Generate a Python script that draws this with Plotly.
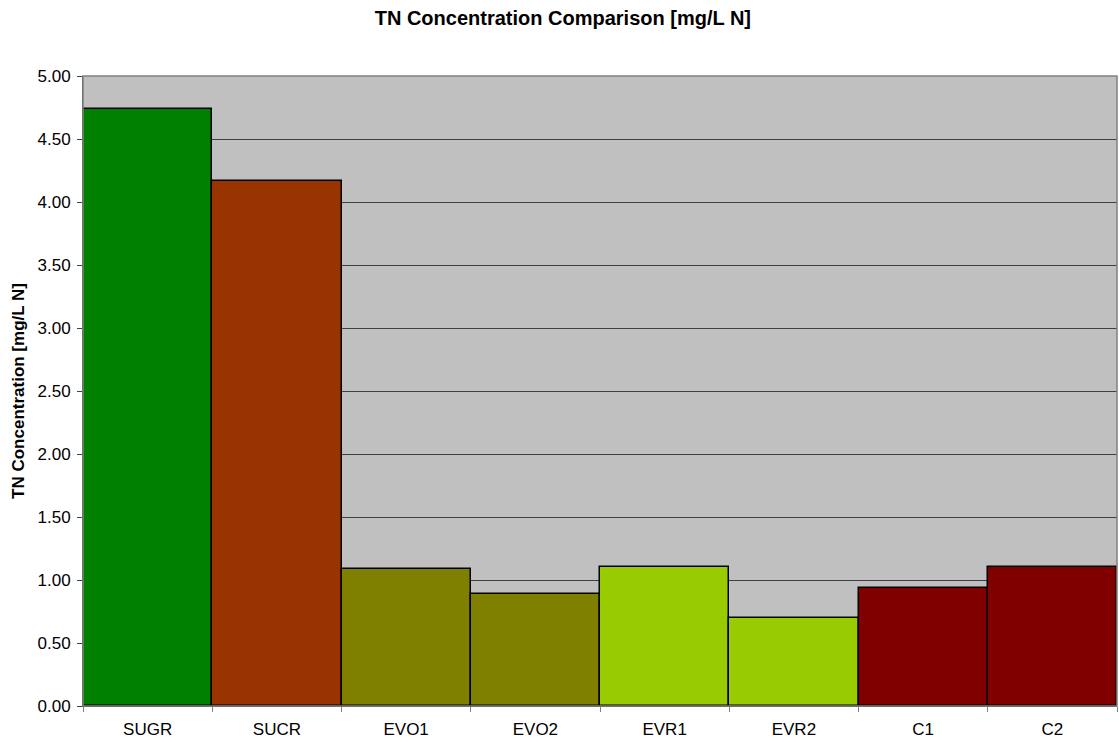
import plotly.graph_objects as go

categories = ["SUGR", "SUCR", "EVO1", "EVO2", "EVR1", "EVR2", "C1", "C2"]
values = [4.74, 4.17, 1.09, 0.89, 1.10, 0.70, 0.94, 1.10]
colors = ["#008000", "#993300", "#808000", "#808000", "#99CC00", "#99CC00", "#800000", "#800000"]
y_ticks = [0.0, 0.5, 1.0, 1.5, 2.0, 2.5, 3.0, 3.5, 4.0, 4.5, 5.0]

fig = go.Figure(go.Bar(
    x=categories, y=values,
    marker=dict(color=colors, line=dict(color="black", width=1.5)),
))

fig.update_layout(
    width=1119, height=742,
    margin=dict(l=83, r=2, t=76, b=36),
    paper_bgcolor="white",
    plot_bgcolor="#C0C0C0",
    bargap=0,
    showlegend=False,
    font=dict(family="Liberation Sans, Arial, sans-serif", size=17, color="black"),
    title=dict(text="<b>TN Concentration Comparison [mg/L N]</b>",
               x=0.503, xanchor="center", y=0.976, yanchor="middle",
               font=dict(size=20, color="black")),
)
fig.update_xaxes(
    type="category", tickson="boundaries", ticks="outside", ticklen=5,
    tickcolor="#808080", showline=True, linecolor="#404040", linewidth=1,
    showgrid=False, mirror=False, tickfont=dict(size=17),
    ticklabelstandoff=8,
)
fig.update_yaxes(
    range=[0, 5], tickvals=y_ticks, tickformat=".2f",
    ticks="outside", ticklen=5, tickcolor="#404040",
    showline=True, linecolor="#404040", linewidth=1,
    showgrid=True, gridcolor="#404040", gridwidth=1,
    zeroline=False, tickfont=dict(size=17), ticklabelstandoff=3,
    title=dict(text="<b>TN Concentration [mg/L N]</b>", font=dict(size=17), standoff=8),
)
# plot area border (gray frame)
fig.add_shape(type="rect", xref="paper", yref="paper", x0=0, x1=1, y0=0, y1=1,
              line=dict(color="#808080", width=1.5), layer="above")

fig.write_html("out.html", config={"displayModeBar": False},
               post_script="document.body.style.margin='0';")
